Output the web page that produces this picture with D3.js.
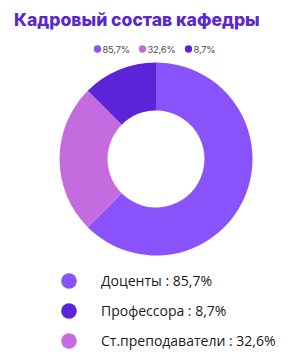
<!DOCTYPE html>
<html>
<head>
<meta charset="utf-8">
<script src="https://cdn.jsdelivr.net/npm/d3@7"></script>
<style>
  html, body { margin: 0; padding: 0; background: #fff; }
  svg { display: block; }
</style>
</head>
<body>
<svg id="chart" width="304" height="363"></svg>
<script>
// Data
const title = "Кадровый состав кафедры";
const categories = ["Доценты", "Ст.преподаватели", "Профессора"];
const percentLabels = ["85,7%", "32,6%", "8,7%"];
// slice shares as drawn (angles measured on the picture)
const sliceShares = [62.5, 25, 12.5];
const colors = ["#8952fb", "#c56be0", "#5b24d9"];
// bottom legend order
const legendOrder = [0, 2, 1];

const svg = d3.select("#chart");

// Title
const t = svg.append("text")
  .attr("x", 14).attr("y", 26)
  .attr("font-family", "Inter, 'Open Sans', sans-serif")
  .attr("font-weight", 800)
  .attr("font-size", 18)
  .attr("fill", "#5a28cc")
  .text(title);
const targetW = 246;
const w = t.node().getComputedTextLength();
t.attr("font-size", 18 * targetW / w);

// Top legend
const topLegX = [97.5, 142.5, 188.5];
const tl = svg.append("g");
percentLabels.forEach((p, i) => {
  tl.append("circle").attr("cx", topLegX[i]).attr("cy", 49).attr("r", 3.7).attr("fill", colors[i]);
  tl.append("text").attr("x", topLegX[i] + 5).attr("y", 52.5)
    .attr("font-family", "Inter, sans-serif").attr("font-size", 9.4)
    .attr("letter-spacing", -0.2)
    .attr("fill", "#4a4a4a").text(p);
});

// Donut
const cx = 156, cy = 159, rOuter = 96.5, rInner = 48.5;
const pie = d3.pie().sort(null).value(d => d)(sliceShares);
const arc = d3.arc().innerRadius(rInner).outerRadius(rOuter);
svg.append("g").attr("transform", `translate(${cx},${cy})`)
  .selectAll("path").data(pie).join("path")
  .attr("d", arc)
  .attr("fill", (d, i) => colors[i]);

// Bottom legend
const rowY = d3.scalePoint().domain(legendOrder).range([281, 341]);
const bl = svg.append("g");
legendOrder.forEach(i => {
  const y = rowY(i);
  bl.append("circle").attr("cx", 69).attr("cy", y).attr("r", 7.8).attr("fill", colors[i]);
  bl.append("text").attr("x", 101).attr("y", y + 4.8)
    .attr("font-family", "'Open Sans', sans-serif").attr("font-size", 14)
    .attr("fill", "#1a1a1a")
    .text(categories[i] + " : " + percentLabels[i]);
});
</script>
</body>
</html>
